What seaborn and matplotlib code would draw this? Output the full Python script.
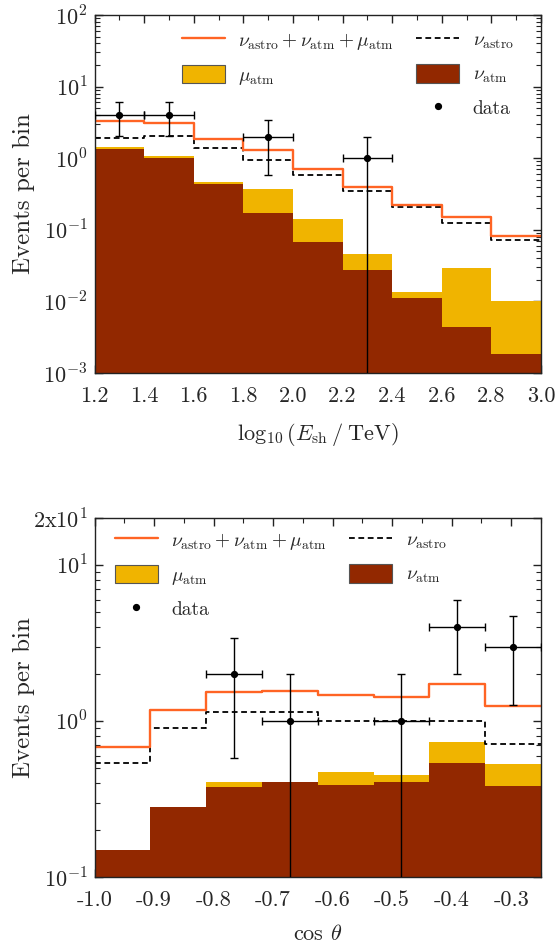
import numpy as np
import pandas as pd
import matplotlib
matplotlib.use("Agg")
import matplotlib.pyplot as plt
import seaborn as sns
from matplotlib.lines import Line2D
from matplotlib.patches import Patch
from matplotlib.ticker import FixedLocator, MultipleLocator, LogLocator, NullFormatter

# ---------------- data: top panel (energy) ----------------
e_edges = [1.2, 1.4, 1.6, 1.8, 2.0, 2.2, 2.4, 2.6, 2.8, 3.0]
e_total = [3.26, 3.06, 1.84, 1.29, 0.718, 0.40, 0.222, 0.153, 0.081]
e_astro = [1.94, 2.04, 1.39, 0.93, 0.58, 0.352, 0.211, 0.124, 0.072]
e_bkg = [1.44, 1.09, 0.464, 0.375, 0.142, 0.0464, 0.0135, 0.0297, 0.0100]
e_nuatm = [1.36, 1.00, 0.431, 0.174, 0.068, 0.0278, 0.0111, 0.00435, 0.00184]
e_data_x = [1.3, 1.5, 1.9, 2.3]
e_data_y = [4, 4, 2, 1]
e_data_lo = [2.02, 2.02, 0.587, 0.0]
e_data_hi = [6.0, 6.0, 3.37, 2.0]
e_xticks = [1.2, 1.4, 1.6, 1.8, 2.0, 2.2, 2.4, 2.6, 2.8, 3.0]
e_xticklabels = ["1.2", "1.4", "1.6", "1.8", "2.0", "2.2", "2.4", "2.6", "2.8", "3.0"]
e_yticks = [1e-3, 1e-2, 1e-1, 1e0, 1e1, 1e2]
e_yticklabels = [r"$10^{-3}$", r"$10^{-2}$", r"$10^{-1}$", r"$10^{0}$", r"$10^{1}$", r"$10^{2}$"]

# ---------------- data: bottom panel (zenith) ----------------
c_edges = [-1.0, -0.90625, -0.8125, -0.71875, -0.625, -0.53125, -0.4375, -0.34375, -0.25]
c_total = [0.68, 1.18, 1.53, 1.55, 1.46, 1.43, 1.73, 1.24]
c_astro = [0.535, 0.90, 1.14, 1.14, 1.0, 1.0, 1.0, 0.71]
c_bkg = [0.148, 0.28, 0.406, 0.408, 0.471, 0.451, 0.73, 0.53]
c_nuatm = [0.148, 0.28, 0.376, 0.406, 0.391, 0.406, 0.535, 0.383]
c_data_x = [-0.765625, -0.671875, -0.484375, -0.390625, -0.296875]
c_data_y = [2, 1, 1, 4, 3]
c_data_lo = [0.58, 0.0, 0.0, 2.0, 1.26]
c_data_hi = [3.42, 2.0, 2.0, 6.0, 4.73]
c_xticks = [-1.0, -0.9, -0.8, -0.7, -0.6, -0.5, -0.4, -0.3]
c_xticklabels = ["-1.0", "-0.9", "-0.8", "-0.7", "-0.6", "-0.5", "-0.4", "-0.3"]
c_yticks = [1e-1, 1e0, 1e1, 2e1]
c_yticklabels = [r"$10^{-1}$", r"$10^{0}$", r"$10^{1}$", r"2x$10^{1}$"]

# ---------------- style ----------------
ORANGE = "#ff6424"
YELLOW = "#f0b400"
DARKRED = "#922800"

sns.set_theme(style="ticks")
plt.rcParams["font.family"] = ["cmr10", "DejaVu Serif"]
plt.rcParams["mathtext.fontset"] = "cm"
plt.rcParams["axes.unicode_minus"] = False
plt.rcParams["axes.formatter.use_mathtext"] = True
plt.rcParams["axes.edgecolor"] = "#222222"
plt.rcParams["axes.linewidth"] = 1.0

FS_TICK = 16
FS_LAB = 16
FS_LEG = 14

W, H = 558, 952
L, R = 94.5, 541
fig = plt.figure(figsize=(W / 100, H / 100), dpi=100)
ax1 = fig.add_axes([L / W, 1 - 373 / H, (R - L) / W, (373 - 15) / H])
ax2 = fig.add_axes([L / W, 1 - 877 / H, (R - L) / W, (877 - 518) / H])


def draw_panel(ax, edges, total, astro, bkg, nuatm, dx, dy, dlo, dhi):
    edges_arr = np.asarray(edges, float)
    bins = [float(v) for v in edges]
    centers = 0.5 * (edges_arr[:-1] + edges_arr[1:])
    half = 0.5 * (edges_arr[1] - edges_arr[0])
    ax.set_yscale("log")
    df = pd.DataFrame({"c": centers, "total": total, "astro": astro,
                       "bkg": bkg, "nuatm": nuatm})
    sns.histplot(data=df, x="c", weights="bkg", bins=bins, element="step",
                 fill=True, color=YELLOW, alpha=1, linewidth=0, ax=ax)
    sns.histplot(data=df, x="c", weights="nuatm", bins=bins, element="step",
                 fill=True, color=DARKRED, alpha=1, linewidth=0, ax=ax)
    sns.histplot(data=df, x="c", weights="astro", bins=bins, element="step",
                 fill=False, color="black", linestyle=(0, (3.2, 2.0)),
                 linewidth=1.3, ax=ax)
    sns.histplot(data=df, x="c", weights="total", bins=bins, element="step",
                 fill=False, color=ORANGE, linewidth=1.7, ax=ax)
    dy = np.asarray(dy, float)
    lo = np.maximum(np.asarray(dlo, float), 1e-6)
    hi = np.asarray(dhi, float)
    ax.errorbar(dx, dy, yerr=[dy - lo, hi - dy], xerr=half, fmt="o",
                color="black", ms=4.2, elinewidth=1.0, capsize=3.2,
                capthick=1.0, zorder=5)
    ax.set_xlim(edges_arr[0], edges_arr[-1])
    ax.set_ylabel("Events per bin", fontsize=FS_LAB + 2)
    ax.yaxis.set_label_coords((35 - L) / (R - L), 0.5)
    ax.tick_params(which="both", direction="in", top=True, right=True,
                   labelsize=FS_TICK, color="#222222")
    ax.tick_params(which="major", length=6, width=1.0)
    ax.tick_params(which="minor", length=3.5, width=0.8)
    ax.tick_params(axis="x", which="major", pad=10)
    ax.tick_params(axis="y", which="major", pad=5)


draw_panel(ax1, e_edges, e_total, e_astro, e_bkg, e_nuatm,
           e_data_x, e_data_y, e_data_lo, e_data_hi)
ax1.set_ylim(1e-3, 1e2)
ax1.yaxis.set_major_locator(FixedLocator(e_yticks))
ax1.set_yticklabels(e_yticklabels)
ax1.yaxis.set_minor_locator(LogLocator(base=10, subs=np.arange(2, 10)))
ax1.yaxis.set_minor_formatter(NullFormatter())
ax1.xaxis.set_major_locator(FixedLocator(e_xticks))
ax1.set_xticklabels(e_xticklabels)
ax1.xaxis.set_minor_locator(MultipleLocator(0.1))
ax1.set_xlabel(r"$\log_{10}(E_{\mathrm{sh}}\,/\;\mathrm{TeV})$", fontsize=FS_LAB)
ax1.xaxis.set_label_coords(0.5, -(421 - 373) / (373 - 15))

draw_panel(ax2, c_edges, c_total, c_astro, c_bkg, c_nuatm,
           c_data_x, c_data_y, c_data_lo, c_data_hi)
ax2.set_ylim(1e-1, 2e1)
ax2.yaxis.set_major_locator(FixedLocator(c_yticks))
ax2.set_yticklabels(c_yticklabels)
ax2.yaxis.set_minor_locator(LogLocator(base=10, subs=np.arange(2, 10)))
ax2.yaxis.set_minor_formatter(NullFormatter())
ax2.xaxis.set_major_locator(FixedLocator(c_xticks))
ax2.set_xticklabels(c_xticklabels)
ax2.xaxis.set_minor_locator(MultipleLocator(0.05))
ax2.set_xlabel(r"cos $\theta$", fontsize=FS_LAB)
ax2.xaxis.set_label_coords(0.5, -(924 - 877) / (877 - 518))

lab_total = r"$\nu_{\rm astro}+\nu_{\rm atm}+\mu_{\rm atm}$"
lab_astro = r"$\nu_{\rm astro}$"
lab_mu = r"$\mu_{\rm atm}$"
lab_nu = r"$\nu_{\rm atm}$"

h_total = Line2D([], [], color=ORANGE, lw=1.7)
h_astro = Line2D([], [], color="black", lw=1.3, ls=(0, (3.2, 2.0)))
h_mu = Patch(facecolor=YELLOW, edgecolor="#555555", lw=0.8)
h_nu = Patch(facecolor=DARKRED, edgecolor="#555555", lw=0.8)
h_data = Line2D([], [], color="black", marker="o", ms=4.2, ls="none")
h_blank = Line2D([], [], alpha=0)

leg_kw = dict(ncol=2, frameon=False, fontsize=FS_LEG, loc="upper left",
              borderaxespad=0, borderpad=0, handlelength=2.2,
              handleheight=1.1, handletextpad=0.7, labelspacing=0.65,
              columnspacing=1.15)
ax1.legend([h_total, h_mu, h_blank, h_astro, h_nu, h_data],
           [lab_total, lab_mu, " ", lab_astro, lab_nu, "data"],
           bbox_to_anchor=((182 - L) / (R - L), 1 - (30 - 15) / 358), **leg_kw)
ax2.legend([h_total, h_mu, h_data, h_astro, h_nu],
           [lab_total, lab_mu, "data", lab_astro, lab_nu],
           bbox_to_anchor=((115 - L) / (R - L), 1 - (530 - 518) / 359), **leg_kw)

fig.savefig("out.png", dpi=100)
